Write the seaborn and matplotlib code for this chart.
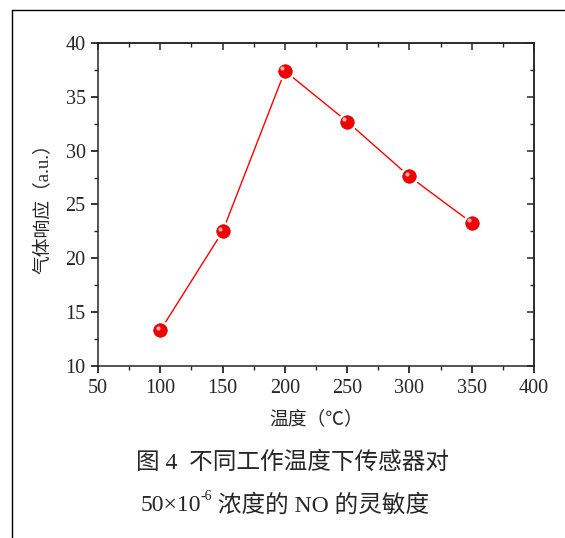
import numpy as np
import pandas as pd
import matplotlib
matplotlib.use("Agg")
import matplotlib.pyplot as plt
import matplotlib.transforms as mtransforms
from matplotlib.lines import Line2D
from matplotlib.ticker import MultipleLocator
import seaborn as sns

temperatura = [100, 150, 200, 250, 300, 350]
respuesta = [13.3, 22.5, 37.4, 32.7, 27.6, 23.3]
xlabel = "温度（℃）"
ylabel = "气体响应（a.u.）"
titulo1 = "图 4  不同工作温度下传感器对"
titulo2a = "50×10"
titulo2b = "-6"
titulo2c = " 浓度的 NO 的灵敏度"

df = pd.DataFrame({"temp": temperatura, "resp": respuesta})

sns.set_style("white")
fuentes = ["Liberation Serif", "Noto Sans CJK SC"]
plt.rcParams["font.family"] = fuentes
plt.rcParams["axes.linewidth"] = 1.1

fig = plt.figure(figsize=(5.65, 5.38), dpi=100)
ax = fig.add_axes([0.1735, 0.3197, 0.7717, 0.6004])

sns.lineplot(data=df, x="temp", y="resp", color="red", linewidth=1.0, ax=ax, zorder=2)
# hueco blanco alrededor de los puntos, como en Origin
sns.scatterplot(data=df, x="temp", y="resp", s=190, color="white", linewidth=0, ax=ax, zorder=3)
sns.scatterplot(data=df, x="temp", y="resp", s=95, color="#f00000", edgecolor="#d00000",
                linewidth=0.5, ax=ax, zorder=4)
# brillo
off = mtransforms.offset_copy(ax.transData, fig=fig, x=-2, y=2, units="points")
ax.scatter(df["temp"], df["resp"], s=9, color="#ffb0b0", linewidth=0, transform=off, zorder=5)

ax.set_xlim(50, 400)
ax.set_ylim(10, 40)
ax.xaxis.set_major_locator(MultipleLocator(50))
ax.xaxis.set_minor_locator(MultipleLocator(25))
ax.yaxis.set_major_locator(MultipleLocator(5))
ax.yaxis.set_minor_locator(MultipleLocator(2.5))
ax.tick_params(which="major", direction="out", length=5, width=1.1, labelsize=14.5, color="black",
               bottom=True, left=True, pad=4)
ax.tick_params(which="minor", direction="out", length=3, width=1.0, bottom=True, left=True)

top = ax.secondary_xaxis("top")
top.xaxis.set_major_locator(MultipleLocator(50))
top.xaxis.set_minor_locator(MultipleLocator(25))
top.tick_params(which="major", direction="in", length=5, width=1.1, labeltop=False)
top.tick_params(which="minor", direction="in", length=3, width=1.0)
right = ax.secondary_yaxis("right")
right.yaxis.set_major_locator(MultipleLocator(5))
right.yaxis.set_minor_locator(MultipleLocator(2.5))
right.tick_params(which="major", direction="in", length=5, width=1.1, labelright=False)
right.tick_params(which="minor", direction="in", length=3, width=1.0)

ax.set_xlabel(xlabel, fontsize=13.5, labelpad=9)
ax.set_ylabel(ylabel, fontsize=13.5, labelpad=10)

fig.text(0.517, 0.139, titulo1, ha="center", va="center", fontsize=17)

# segunda línea del pie, con superíndice
t1 = fig.text(0.248, 0.061, titulo2a, ha="left", va="center", fontsize=17)
t2 = ax.annotate(titulo2b, xy=(1, 0.62), xycoords=t1, ha="left", va="bottom", fontsize=10,
                 annotation_clip=False)
t3 = ax.annotate(titulo2c, xy=(1, 0.5), xycoords=(t2, t1), ha="left", va="center", fontsize=17,
                 annotation_clip=False)

# marco del documento
fig.add_artist(Line2D([0.0212, 0.0212], [0.0, 0.9814], color="black", linewidth=1.0))
fig.add_artist(Line2D([0.0212, 1.0], [0.9814, 0.9814], color="black", linewidth=1.0))

fig.savefig("out.png", dpi=100)
